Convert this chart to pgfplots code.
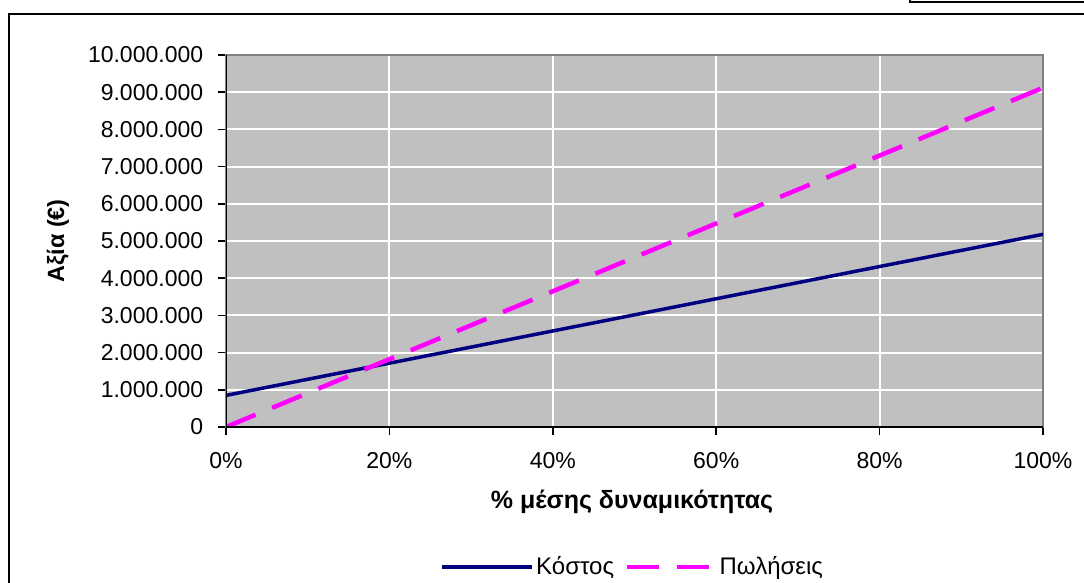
\documentclass[border=0pt]{standalone}
\usepackage{fontspec}
\setmainfont{Liberation Sans}
\usepackage{pgfplots}
\pgfplotsset{compat=1.18}
\definecolor{plotgray}{HTML}{C0C0C0}
\definecolor{costblue}{HTML}{000080}
\definecolor{salesmag}{HTML}{FF00FF}
\definecolor{framegray}{HTML}{808080}
\begin{document}
\begin{tikzpicture}
  \fontsize{23}{27}\selectfont
  \useasboundingbox (0pt,0pt) rectangle (1084pt,-582pt);
  % outer chart frame (cut off right and bottom)
  \draw[line width=2.5pt] (9pt,-600pt) -- (9pt,-14pt) -- (1100pt,-14pt);
  \draw[line width=2.5pt] (910pt,10pt) -- (910pt,-2pt) -- (1100pt,-2pt);
  \begin{axis}[
    at={(226pt,-427pt)}, anchor=south west,
    width=817pt, height=372pt, scale only axis,
    xmin=0, xmax=100, ymin=0, ymax=10000000,
    xtick={0,20,40,60,80,100},
    ytick={0,1000000,2000000,3000000,4000000,5000000,6000000,7000000,8000000,9000000,10000000},
    scaled y ticks=false,
    xticklabel={\pgfmathprintnumber{\tick}\%},
    /pgf/number format/.cd, fixed, 1000 sep={.}, assume math mode=true,
    /pgfplots/.cd,
    tick label style={font=\fontsize{23}{27}\selectfont},
    xticklabel style={yshift=-10pt},
    yticklabel style={xshift=-7pt},
    tick pos=left, tick align=outside,
    major tick length=8pt,
    tick style={black, line width=1.5pt},
    axis background/.style={fill=plotgray},
    grid=major,
    grid style={white, line width=2pt},
    axis line style={framegray, line width=2pt},
    ylabel={\bfseries Αξία (€)},
    ylabel style={at={(axis description cs:-0.2056,0.5)}, anchor=center,
      font=\fontsize{23.5}{27}\selectfont},
    xlabel={\bfseries \% μέσης δυναμικότητας},
    xlabel style={at={(axis description cs:0.497,-0.2016)}, anchor=center,
      font=\fontsize{25}{28}\selectfont},
    legend columns=2,
    legend style={at={(axis description cs:0.498,-0.376)}, anchor=center,
      draw=none, fill=none, font=\fontsize{24}{28}\selectfont,
      /tikz/every even column/.append style={column sep=9pt}},
  ]
    \addplot[costblue, line width=3.5pt,
      legend image code/.code={\draw[costblue, line width=3.5pt] (0pt,0pt) -- (90pt,0pt);}]
      coordinates {(0,850000) (100,5180000)};
    \addlegendentry{Κόστος}
    \addplot[salesmag, line width=4.5pt, dash pattern=on 32pt off 18pt,
      legend image code/.code={\draw[salesmag, line width=4.5pt, dash pattern=on 32pt off 18pt] (0pt,0pt) -- (82pt,0pt); \path (88pt,0pt);}]
      coordinates {(0,0) (100,9120000)};
    \addlegendentry{Πωλήσεις}
    \draw[black, line width=2pt] (rel axis cs:0,1) -- (rel axis cs:0,0) -- (rel axis cs:1,0);
  \end{axis}
\end{tikzpicture}
\end{document}
